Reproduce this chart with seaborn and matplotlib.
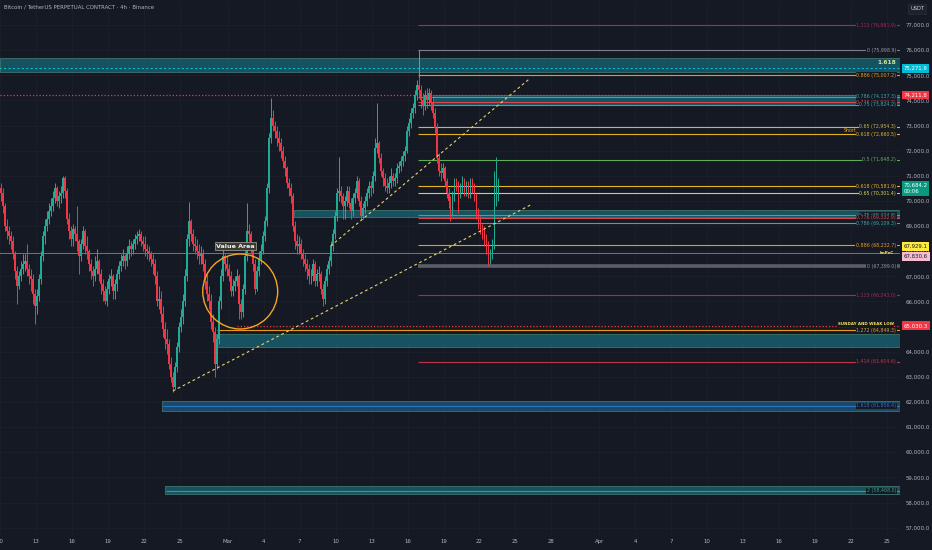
import numpy as np
import matplotlib
matplotlib.use("Agg")
import matplotlib.pyplot as plt
from matplotlib.patches import Rectangle, Ellipse
import seaborn as sns

# ---------------- DATA ----------------
title_text = "Bitcoin / TetherUS PERPETUAL CONTRACT · 4h · Binance"
quote_ccy = "USDT"

first_open = 70500
closes = [
    70300, 69800, 69000, 68800, 68600, 68400,
    67900, 67200, 66600, 67000, 67300, 67500,
    67600, 67300, 67000, 66900, 66300, 65800,
    66200, 66900, 67800, 68600, 69000, 69300,
    69600, 69800, 70100, 70500, 70000, 70200,
    70300, 70900, 70400, 69300, 68800, 68500,
    68900, 68700, 68400, 67800, 68300, 68800,
    68200, 68000, 67500, 67200, 67000, 67300,
    67600, 67100, 66700, 66400, 66000, 66500,
    66900, 67000, 66400, 66700, 67100, 67400,
    67600, 67800, 67600, 67900, 68200, 68100,
    68300, 68500, 68600, 68700, 68400, 68300,
    68100, 68000, 67900, 67700, 67500, 67000,
    66000, 66100, 65500, 64900, 64500, 64300,
    63500, 63000, 62600, 63400, 64200, 65000,
    65400, 66000, 67000, 68500, 69200, 68700,
    68300, 68200, 68000, 67800, 67900, 67500,
    66800, 66300, 66000, 65200, 64800, 63500,
    64500, 66000, 67000, 67800, 67500, 67300,
    67000, 66400, 66600, 66800, 67000, 65900,
    65600, 66500, 67800, 68800, 68700, 68200,
    67500, 66500, 67200, 67700, 68000, 68600,
    69200, 70500, 72500, 73300, 73000, 72800,
    72500, 72300, 72000, 71600, 71300, 70700,
    70500, 70200, 69000, 68400, 68200, 68300,
    67900, 67700, 67500, 67300, 67000, 67000,
    67500, 66800, 67100, 67100, 66500, 66100,
    66800, 67300, 67600, 68200, 68700, 69400,
    70300, 70400, 70200, 69800, 70000, 70400,
    69900, 69600, 70100, 70300, 70800, 70000,
    69400, 69700, 70000, 70300, 70600, 70500,
    71000, 72100, 72300, 71700, 71200, 70900,
    70600, 70500, 70700, 71000, 70800, 70900,
    71300, 71400, 71600, 71800, 72000, 72800,
    73100, 73500, 73700, 74200, 74600, 74400,
    74000, 73800, 74200, 74000, 74300, 73900,
    73500, 72900, 71700, 71200, 71100, 71300,
    70800, 70300, 70000, 69600, 70200, 70700,
    70600, 70300, 70500, 70700, 70400, 70600,
    70300, 70700, 70500, 70200, 69500, 69200,
    68900, 68800, 68500, 68200, 67800, 67900,
    68300, 70100, 70200, 70684.2,
]
highs = [
    70700, 70500, 69900, 69300, 69000, 68800,
    68600, 68000, 67400, 67200, 67600, 67900,
    67900, 68300, 67500, 67300, 67100, 66500,
    66500, 67100, 68000, 68800, 69300, 69600,
    69900, 70100, 70400, 70700, 70600, 70400,
    70600, 71000, 71000, 70500, 69500, 69000,
    69100, 69000, 69800, 68500, 68500, 69000,
    68900, 68600, 68100, 67700, 67400, 67800,
    68100, 67700, 67300, 66900, 66600, 66800,
    67100, 67300, 67100, 66900, 67300, 67600,
    67900, 68100, 67900, 68200, 68500, 68400,
    68500, 68700, 68800, 68900, 68800, 68600,
    68600, 68300, 68200, 68000, 67900, 67700,
    67200, 66600, 66400, 65800, 65200, 64900,
    64500, 63800, 63200, 63600, 64400, 65200,
    65700, 66300, 67300, 68700, 69950, 69300,
    68900, 68600, 68500, 68300, 68200, 68100,
    67700, 67100, 66600, 66300, 65500, 65000,
    64700, 66200, 67300, 68200, 67900, 67800,
    67500, 67200, 66900, 67000, 67300, 67100,
    66100, 66700, 68000, 69900, 69100, 68800,
    68300, 67700, 67400, 68000, 68300, 68800,
    69400, 70700, 72700, 74100, 73600, 73200,
    73000, 72800, 72500, 72200, 71800, 71400,
    70900, 70700, 70300, 69200, 68700, 68600,
    68500, 68100, 67900, 67700, 67500, 67300,
    67700, 67600, 67300, 67400, 67200, 66700,
    67000, 67500, 67800, 68400, 68900, 69600,
    70500, 71750, 70600, 70300, 70200, 70600,
    70600, 70100, 70300, 70500, 71000, 70900,
    70200, 69900, 70200, 70500, 70800, 70800,
    71200, 72500, 73900, 72400, 71900, 71300,
    71100, 70900, 71000, 71300, 71100, 71100,
    71500, 71600, 71800, 72000, 72200, 73000,
    73300, 73700, 73900, 74400, 74800, 74900,
    74600, 74300, 74400, 74500, 74500, 74400,
    74100, 73700, 73100, 71900, 71500, 71500,
    71400, 70900, 70500, 70200, 70400, 70900,
    70900, 70800, 70700, 71000, 70900, 70800,
    70800, 70900, 70900, 70700, 70300, 69700,
    69400, 69100, 69000, 68700, 68400, 68100,
    68500, 71200, 71750, 70900,
]
lows = [
    70000, 69500, 68800, 68500, 68300, 68100,
    67700, 66900, 65900, 66500, 66800, 67100,
    67200, 67000, 66700, 66400, 65900, 65100,
    65500, 66000, 66700, 67600, 68300, 68800,
    69100, 69400, 69600, 69900, 69800, 69700,
    69900, 70100, 70100, 69100, 68500, 68200,
    68200, 68400, 68000, 67100, 67600, 68100,
    67900, 67700, 67200, 66900, 66600, 66800,
    67100, 66800, 66300, 66000, 65900, 65800,
    66300, 66600, 66100, 66100, 66400, 66900,
    67200, 67400, 67300, 67400, 67700, 67800,
    67900, 68100, 68300, 68400, 68200, 68000,
    67800, 67700, 67600, 67400, 67100, 66700,
    65800, 65700, 65200, 64600, 64100, 63900,
    63300, 62800, 62400, 62500, 63200, 64000,
    64800, 65100, 65800, 66800, 68200, 68400,
    68000, 67900, 67700, 67500, 67500, 67200,
    66500, 66000, 65700, 64900, 64400, 63000,
    63300, 64300, 65700, 66800, 67200, 67000,
    66800, 66200, 66200, 66400, 66600, 65300,
    65300, 65400, 66300, 67600, 68400, 67900,
    67200, 66300, 66400, 67000, 67500, 67900,
    68400, 69000, 70300, 72300, 72800, 72500,
    72200, 72000, 71700, 71300, 71000, 70500,
    70200, 69900, 68800, 68100, 67900, 67900,
    67700, 67400, 67200, 66900, 66700, 66700,
    66800, 66600, 66600, 66800, 66300, 65800,
    65900, 66600, 67100, 67400, 68000, 68500,
    69200, 70000, 69900, 69300, 69300, 69800,
    69700, 69300, 69400, 69900, 70100, 69800,
    69240, 69300, 69500, 69800, 70100, 70200,
    70300, 70800, 71900, 71500, 71000, 70600,
    70400, 70300, 70300, 70500, 70600, 70600,
    70700, 71100, 71200, 71400, 71600, 71900,
    72600, 72900, 73300, 73500, 74000, 74100,
    73700, 73400, 73600, 73700, 73800, 73600,
    73300, 72700, 71500, 71000, 70800, 70900,
    70600, 70100, 69700, 69200, 69400, 70000,
    70400, 69500, 70100, 70300, 70200, 70200,
    70100, 70100, 70300, 70000, 69300, 68900,
    68700, 68500, 68200, 67900, 67400, 67500,
    67700, 68100, 69800, 70000,
]

# x axis: days after Feb 10 (00:00)
date_tick_days = [0, 3, 6, 9, 12, 15, 19, 22, 25, 28, 31, 34, 37, 40, 43, 46,
                  50, 53, 56, 59, 62, 65, 68, 71, 74]
date_tick_labels = ["10", "13", "16", "19", "22", "25", "Mar", "4", "7", "10", "13",
                    "16", "19", "22", "25", "28", "Apr", "4", "7", "10", "13", "16",
                    "19", "22", "25"]
price_ticks = list(range(57000, 78000, 1000))

fib_values = [76981.9, 75998.9, 75007.2, 74137.3, 73920.2, 73824.2, 72954.3,
              72660.5, 71648.2, 70581.9, 70301.4, 69424.8, 69332.9, 69109.3,
              68232.7, 67399.0, 66243.0, 64849.3, 63604.6, 61856.4, 58468.0]
fib_texts = ["1.113 (76,981.9)", "0 (75,998.9)", "0.886 (75,007.2)",
             "0.786 (74,137.3)", "0.776 (73,920.2)", "0.75 (73,824.2)",
             "0.65 (72,954.3)", "0.618 (72,660.5)", "0.5 (71,648.2)",
             "0.618 (70,581.9)", "0.65 (70,301.4)", "0.75 (69,424.8)",
             "0.776 (69,332.9)", "0.786 (69,109.3)", "0.886 (68,232.7)",
             "0 (67,399.0)", "1.113 (66,243.0)", "1.272 (64,849.3)",
             "1.414 (63,604.6)", "1.618 (61,856.4)", "2 (58,468.0)"]
fib_start_days = [34.9, 34.9, 34.9, 34.9, 34.9, 34.9, 34.9, 34.9, 34.9, 34.9,
                  34.9, 34.9, 34.9, 34.9, 34.9, 34.9, 34.9, 18.1, 34.9, 13.6, 13.85]

zone_tops = [75690, 74200, 69650, 64700, 62035, 58650]
zone_bottoms = [75130, 73800, 69350, 64180, 61640, 58330]
zone_start_days = [0.0, 36.1, 24.5, 18.05, 13.55, 13.8]

zone_label_text = "1.618"
zone_mid_level = 75271.9

red_dotted_levels = [74211.8, 65030.3]
red_dotted_start_days = [0.0, 19.8]
weak_low_text = "SUNDAY AND WEAK LOW"
impoc_level = 67929.1
impoc_text = "ImPoC"
short_text = "Short"

trend_days = [[14.42, 44.25], [27.58, 44.25]]
trend_prices = [[62437, 69838], [68206, 74891]]

value_area_center = (20.04, 66396)
value_area_size = (6.25, 2984)
value_area_text = "Value Area"
value_area_label_pos = (19.67, 68206)

anchor_day = 34.95
anchor_prices = [75998.9, 74900]

marker_levels = [75271.9, 74211.8, 70684.2, 67929.1, 67830.6, 65030.3]
marker_texts = ["75,271.9", "74,211.8", "70,684.2\n00:06", "67,929.1", "67,830.6", "65,030.3"]

# ---------------- STYLE ----------------
BG = "#151924"
GRID = "#1c202b"
TXT = "#b2b5be"
UP = "#22ab94"
DOWN = "#f23645"

sns.set_theme(style="dark", rc={"axes.facecolor": BG, "figure.facecolor": BG})
plt.rcParams["font.family"] = ["DejaVu Sans"]

W, H = 932, 550
fig = plt.figure(figsize=(W / 100, H / 100), dpi=100)
fig.patch.set_facecolor(BG)
ax = fig.add_axes([0, 15 / H, 900 / W, 535 / H])
ax.set_facecolor(BG)

ymax, ymin = 77995, 56707
xmin, xmax = 1 / 12, 901 / 12
ax.set_xlim(xmin, xmax)
ax.set_ylim(ymin, ymax)
ppx = (ymax - ymin) / 535.0  # price per pixel

for s in ax.spines.values():
    s.set_visible(False)

# grid
ax.set_xticks(date_tick_days)
ax.set_xticklabels(date_tick_labels)
ax.set_yticks(price_ticks)
ax.set_yticklabels([f"{v:,.1f}" for v in price_ticks])
ax.yaxis.tick_right()
ax.tick_params(axis="y", length=0, pad=4, labelsize=3.9, labelcolor=TXT)
ax.tick_params(axis="x", length=0, pad=3, labelsize=3.9, labelcolor=TXT)
ax.grid(True, color=GRID, lw=0.6, zorder=0)

# zones
zone_faces = ["#175866", "#175866", "#175866", "#175866", "#1a4f6a", "#175866"]
for top, bot, sd, fc in zip(zone_tops, zone_bottoms, zone_start_days, zone_faces):
    x0 = max(sd, xmin - 1)
    ax.add_patch(Rectangle((x0, bot), xmax + 1 - x0, top - bot, facecolor=fc,
                           edgecolor="#3f6f6a", lw=0.7, alpha=0.92, zorder=1))
ax.hlines(zone_mid_level, xmin - 1, xmax + 1, colors="#00bcd4", lw=0.8,
          linestyles=(0, (2, 2)), zorder=2)
ax.text(0.9956, zone_tops[0] - 170, zone_label_text, transform=ax.get_yaxis_transform(),
        ha="right", va="center", fontsize=4.2, color="#d4e6a0", fontweight="bold", zorder=6)

# fib lines
fib_colors = ["#b0245a", "#7d808a", "#e89b1a", "#3aa8a8", "#d8434d", "#3aa8a8",
              "#c9b84a", "#e6b422", "#5fae57", "#e6b422", "#d9cf55", "#3aa8a8",
              "#d8434d", "#3aa8a8", "#e89b1a", "#5b5e68", "#b0245a", "#e89b1a",
              "#c2334a", "#2f6fd0", "#26a69a"]
fib_lws = [0.8] * len(fib_values)
fib_lws[15] = 2.6
for v, t, sd, c, lw in zip(fib_values, fib_texts, fib_start_days, fib_colors, fib_lws):
    ax.hlines(v, sd, xmax + 1, colors=c, lw=lw, zorder=3)
    tc = "#9598a1" if c in ("#7d808a", "#5b5e68") else c
    ax.text(0.9956, v, t, transform=ax.get_yaxis_transform(), ha="right", va="center",
            fontsize=3.4, color=tc, zorder=6,
            bbox=dict(boxstyle="square,pad=0.1", fc=BG, ec="none"))
ax.text(0.937, fib_values[7] + 3.5 * ppx, short_text, transform=ax.get_yaxis_transform(),
        ha="left", va="center", fontsize=3.4, color="#f0a020", zorder=7)

# red dotted lines
for lvl, sd in zip(red_dotted_levels, red_dotted_start_days):
    ax.hlines(lvl, max(sd, xmin - 1), xmax + 1, colors="#f23645", lw=0.9,
              linestyles=(0, (1, 1.6)), zorder=3)
ax.text(0.9935, red_dotted_levels[1] + 1.5 * ppx, weak_low_text,
        transform=ax.get_yaxis_transform(), ha="right", va="center",
        fontsize=2.9, color="#f5e15a", fontweight="bold", zorder=6,
        bbox=dict(boxstyle="square,pad=0.05", fc=BG, ec="none"))

# ImPoC line
ax.hlines(impoc_level, xmin - 1, xmax + 1, colors="#7c7a58", lw=0.7, zorder=2)
ax.text(0.9935, impoc_level, impoc_text, transform=ax.get_yaxis_transform(),
        ha="right", va="center", fontsize=2.9, color="#f5e15a", fontweight="bold", zorder=6)

# anchor vertical
ax.vlines(anchor_day, anchor_prices[1], anchor_prices[0], colors="#8a8d96", lw=0.7, zorder=3)

# candles
c = np.asarray(closes, dtype=float)
o = np.r_[first_open, c[:-1]]
h = np.maximum(np.asarray(highs, dtype=float), np.maximum(o, c))
l = np.minimum(np.asarray(lows, dtype=float), np.minimum(o, c))
xs = np.arange(len(c)) / 6.0 + 1 / 12.0
cols = np.where(c >= o, UP, DOWN)
ax.vlines(xs, l, h, colors=cols, lw=0.7, zorder=4)
body = np.maximum(np.abs(c - o), 25)
ax.bar(xs, body, bottom=np.minimum(o, c), width=0.13, color=cols, linewidth=0, zorder=4)

# trend lines (seaborn)
for td, tp in zip(trend_days, trend_prices):
    sns.lineplot(x=td, y=tp, ax=ax, color="#e8d36a", lw=0.8, linestyle=(0, (2.5, 2.5)),
                 zorder=5)

# value area
ax.add_patch(Ellipse(value_area_center, value_area_size[0], value_area_size[1],
                     fill=False, ec="#f5a623", lw=1.0, zorder=5))
ax.text(value_area_label_pos[0], value_area_label_pos[1], value_area_text, ha="center",
        va="center", fontsize=4.6, color="#f0f0f0", fontweight="bold", zorder=6,
        bbox=dict(boxstyle="square,pad=0.2", fc="#3a3c34", ec="#a8a898", lw=0.5))

# price markers on axis
m_bg = ["#00bcd4", "#f23645", "#089981", "#ffeb3b", "#f8bbd0", "#f23645"]
m_fg = ["#ffffff", "#ffffff", "#ffffff", "#131722", "#131722", "#ffffff"]
m_shift = [0, 0, -4.3, 6.5, -1.0, 0]
for lvl, txt, bg, fg, sh in zip(marker_levels, marker_texts, m_bg, m_fg, m_shift):
    ax.text(1.004, lvl + sh * ppx, txt, transform=ax.get_yaxis_transform(), ha="left",
            va="center", fontsize=3.9, color=fg, clip_on=False, zorder=8,
            linespacing=1.3,
            bbox=dict(boxstyle="square,pad=0.35", fc=bg, ec="none"))

# title & currency box
fig.text(4 / W, 1 - 7 / H, title_text, ha="left", va="center", fontsize=3.9, color=TXT)
fig.text(917 / W, 1 - 9 / H, quote_ccy, ha="center", va="center", fontsize=3.7,
         color="#d1d4dc", bbox=dict(boxstyle="square,pad=0.45", fc="#1e222d", ec="#2a2e39", lw=0.5))

fig.savefig("out.png", dpi=100, facecolor=BG)
